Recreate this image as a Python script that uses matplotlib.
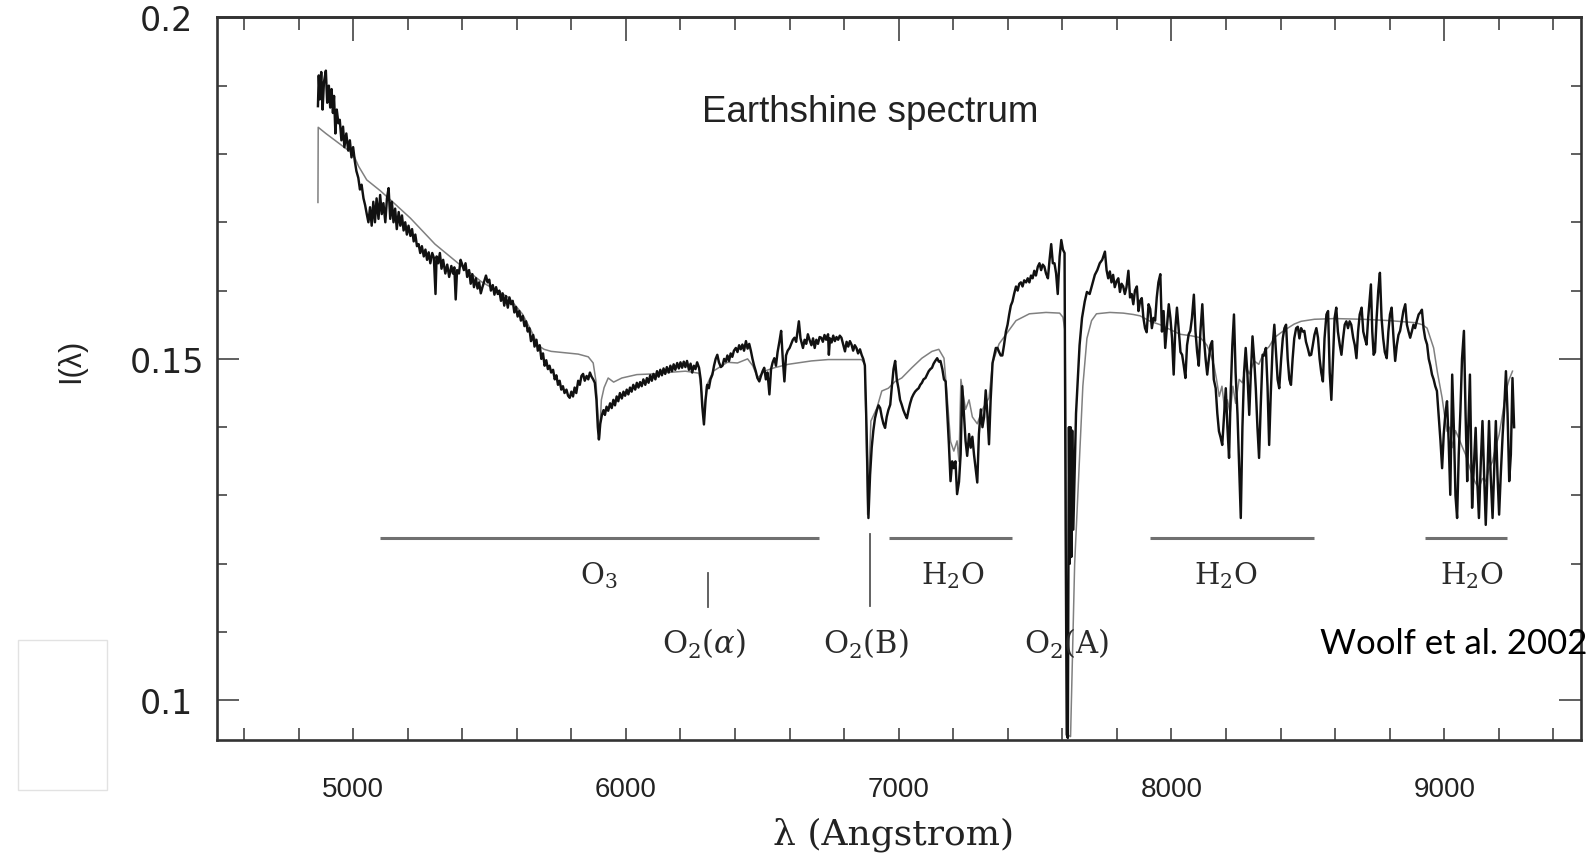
import matplotlib
matplotlib.use("Agg")
import matplotlib.pyplot as plt
from matplotlib.ticker import MultipleLocator, FixedLocator, FixedFormatter
from matplotlib.patches import Rectangle

# ---------------- data ----------------
# observed earthshine spectrum (black), (wavelength [A], intensity)
observed = [
    (4871, 0.1870), (4874, 0.1915), (4878, 0.1880), (4883, 0.1920), (4888, 0.1865), (4893, 0.1905),
    (4900, 0.1922), (4905, 0.1875), (4911, 0.1900), (4916, 0.1868), (4921, 0.1895), (4926, 0.1860),
    (4930, 0.1885), (4935, 0.1830), (4940, 0.1865), (4946, 0.1845), (4951, 0.1850), (4957, 0.1820),
    (4963, 0.1840), (4968, 0.1810), (4975, 0.1830), (4982, 0.1805), (4988, 0.1820), (4994, 0.1795),
    (5000, 0.1810), (5006, 0.1790), (5012, 0.1775), (5019, 0.1765), (5025, 0.1748), (5031, 0.1755),
    (5038, 0.1735), (5044, 0.1725), (5050, 0.1712), (5056, 0.1700), (5062, 0.1722), (5068, 0.1695),
    (5074, 0.1730), (5080, 0.1700), (5086, 0.1735), (5093, 0.1705), (5099, 0.1740), (5105, 0.1712),
    (5111, 0.1728), (5118, 0.1700), (5124, 0.1735), (5130, 0.1750), (5136, 0.1705), (5142, 0.1730),
    (5148, 0.1700), (5154, 0.1720), (5160, 0.1690), (5167, 0.1715), (5173, 0.1695), (5179, 0.1710),
    (5185, 0.1688), (5191, 0.1700), (5197, 0.1682), (5203, 0.1695), (5210, 0.1680), (5216, 0.1690),
    (5222, 0.1672), (5228, 0.1682), (5234, 0.1665), (5240, 0.1668), (5246, 0.1655), (5252, 0.1665),
    (5259, 0.1650), (5265, 0.1660), (5271, 0.1645), (5277, 0.1656), (5283, 0.1640), (5290, 0.1655),
    (5296, 0.1648), (5302, 0.1595), (5306, 0.1650), (5312, 0.1640), (5318, 0.1655), (5324, 0.1632),
    (5330, 0.1645), (5338, 0.1625), (5345, 0.1638), (5352, 0.1620), (5360, 0.1636), (5366, 0.1625),
    (5371, 0.1634), (5376, 0.1587), (5381, 0.1630), (5388, 0.1625), (5394, 0.1645), (5400, 0.1638),
    (5406, 0.1630), (5412, 0.1640), (5418, 0.1620), (5425, 0.1630), (5431, 0.1610), (5437, 0.1624),
    (5443, 0.1605), (5450, 0.1618), (5456, 0.1603), (5462, 0.1612), (5468, 0.1596), (5474, 0.1605),
    (5480, 0.1613), (5487, 0.1622), (5493, 0.1612), (5499, 0.1616), (5505, 0.1600), (5512, 0.1608),
    (5518, 0.1594), (5524, 0.1605), (5530, 0.1595), (5536, 0.1600), (5542, 0.1585), (5548, 0.1596),
    (5554, 0.1578), (5560, 0.1592), (5567, 0.1575), (5573, 0.1590), (5579, 0.1580), (5585, 0.1585),
    (5591, 0.1568), (5597, 0.1576), (5603, 0.1562), (5609, 0.1570), (5615, 0.1556), (5622, 0.1563),
    (5628, 0.1548), (5634, 0.1555), (5640, 0.1540), (5646, 0.1545), (5652, 0.1526),
    (5660, 0.1535), (5665, 0.1518), (5672, 0.1528), (5677, 0.1512), (5684, 0.1520), (5690, 0.1500),
    (5696, 0.1508), (5702, 0.1490), (5708, 0.1498), (5714, 0.1485), (5720, 0.1490), (5726, 0.1480),
    (5733, 0.1484), (5739, 0.1470), (5745, 0.1476), (5751, 0.1462), (5757, 0.1468), (5763, 0.1455),
    (5769, 0.1460), (5775, 0.1450), (5782, 0.1455), (5788, 0.1446), (5794, 0.1443), (5800, 0.1452),
    (5806, 0.1445), (5812, 0.1458), (5818, 0.1450), (5825, 0.1468), (5831, 0.1462), (5837, 0.1475),
    (5843, 0.1478), (5849, 0.1468), (5856, 0.1475), (5862, 0.1470), (5868, 0.1480), (5874, 0.1474),
    (5880, 0.1470), (5886, 0.1465), (5892, 0.1440), (5897, 0.1400), (5901, 0.1382), (5906, 0.1405),
    (5912, 0.1418), (5918, 0.1425), (5923, 0.1418), (5929, 0.1430), (5935, 0.1424), (5942, 0.1435),
    (5948, 0.1428), (5954, 0.1440), (5960, 0.1432), (5966, 0.1445), (5972, 0.1438), (5978, 0.1450),
    (5985, 0.1442), (5991, 0.1452), (5997, 0.1446), (6003, 0.1455), (6009, 0.1448), (6015, 0.1458),
    (6021, 0.1452), (6027, 0.1462), (6034, 0.1455), (6040, 0.1465), (6046, 0.1458), (6052, 0.1466),
    (6058, 0.1460), (6064, 0.1470), (6071, 0.1462), (6077, 0.1472), (6083, 0.1465), (6089, 0.1476),
    (6095, 0.1468), (6101, 0.1478), (6108, 0.1470), (6114, 0.1482), (6120, 0.1474), (6126, 0.1484),
    (6132, 0.1476), (6138, 0.1486), (6144, 0.1478), (6150, 0.1488), (6157, 0.1480), (6163, 0.1490),
    (6169, 0.1482), (6175, 0.1492), (6181, 0.1484), (6188, 0.1494), (6194, 0.1486), (6200, 0.1495),
    (6206, 0.1487), (6212, 0.1496), (6218, 0.1488), (6224, 0.1497), (6231, 0.1484), (6237, 0.1493),
    (6243, 0.1480), (6249, 0.1490), (6255, 0.1485), (6261, 0.1495), (6268, 0.1487), (6274, 0.1470),
    (6280, 0.1430), (6286, 0.1404), (6292, 0.1440), (6298, 0.1462), (6304, 0.1457), (6310, 0.1470),
    (6317, 0.1477), (6323, 0.1490), (6329, 0.1500), (6335, 0.1506), (6341, 0.1495), (6348, 0.1488),
    (6354, 0.1490), (6360, 0.1500), (6366, 0.1496), (6372, 0.1505), (6378, 0.1497), (6384, 0.1508),
    (6390, 0.1503), (6396, 0.1512), (6403, 0.1516), (6409, 0.1510), (6415, 0.1520), (6421, 0.1514),
    (6427, 0.1521), (6433, 0.1512), (6440, 0.1526), (6446, 0.1515), (6452, 0.1522), (6458, 0.1512),
    (6464, 0.1500), (6470, 0.1490), (6476, 0.1482), (6482, 0.1472), (6489, 0.1467), (6495, 0.1475),
    (6501, 0.1482), (6507, 0.1487), (6513, 0.1470), (6519, 0.1480), (6526, 0.1448), (6532, 0.1485),
    (6538, 0.1495), (6544, 0.1501), (6550, 0.1490), (6556, 0.1510), (6563, 0.1526), (6569, 0.1541),
    (6575, 0.1500), (6581, 0.1467), (6587, 0.1505), (6593, 0.1512), (6600, 0.1516), (6606, 0.1522),
    (6612, 0.1528), (6618, 0.1531), (6624, 0.1525), (6629, 0.1540), (6634, 0.1555), (6640, 0.1530),
    (6649, 0.1516), (6655, 0.1528), (6661, 0.1522), (6667, 0.1536), (6673, 0.1528), (6680, 0.1520),
    (6686, 0.1530), (6692, 0.1516), (6698, 0.1528), (6704, 0.1522), (6710, 0.1532), (6716, 0.1531),
    (6722, 0.1525), (6728, 0.1535), (6734, 0.1528), (6741, 0.1536), (6744, 0.1506), (6748, 0.1530),
    (6754, 0.1524), (6760, 0.1534), (6766, 0.1526), (6772, 0.1532), (6778, 0.1528), (6784, 0.1534),
    (6790, 0.1531), (6797, 0.1520), (6803, 0.1511), (6809, 0.1525), (6815, 0.1518), (6821, 0.1526),
    (6827, 0.1521), (6833, 0.1512), (6839, 0.1520), (6845, 0.1516), (6851, 0.1508), (6858, 0.1514),
    (6864, 0.1506), (6870, 0.1500), (6876, 0.1490), (6882, 0.1400), (6889, 0.1267), (6895, 0.1330),
    (6901, 0.1370), (6907, 0.1395), (6913, 0.1413), (6920, 0.1425), (6926, 0.1432), (6932, 0.1428),
    (6938, 0.1415), (6944, 0.1405), (6950, 0.1399), (6956, 0.1415), (6962, 0.1425), (6969, 0.1433),
    (6975, 0.1460), (6981, 0.1485), (6987, 0.1497), (6993, 0.1470), (6999, 0.1457), (7005, 0.1440),
    (7011, 0.1433), (7017, 0.1425), (7024, 0.1418), (7030, 0.1413), (7036, 0.1425), (7042, 0.1435),
    (7048, 0.1443), (7054, 0.1448), (7060, 0.1452), (7067, 0.1455), (7073, 0.1457), (7079, 0.1462),
    (7085, 0.1465), (7091, 0.1470), (7098, 0.1472), (7104, 0.1477), (7110, 0.1482), (7116, 0.1485),
    (7122, 0.1487), (7128, 0.1493), (7134, 0.1497), (7141, 0.1501), (7147, 0.1496), (7153, 0.1497),
    (7160, 0.1485), (7166, 0.1470), (7172, 0.1467), (7178, 0.1420), (7184, 0.1375), (7190, 0.1321),
    (7196, 0.1350), (7202, 0.1340), (7208, 0.1350), (7214, 0.1302), (7221, 0.1320), (7227, 0.1360),
    (7233, 0.1460), (7239, 0.1420), (7245, 0.1380), (7251, 0.1358), (7258, 0.1390), (7264, 0.1370),
    (7270, 0.1386), (7276, 0.1360), (7282, 0.1340), (7288, 0.1319), (7294, 0.1390), (7301, 0.1426),
    (7307, 0.1400), (7313, 0.1415), (7319, 0.1454), (7325, 0.1420), (7331, 0.1375), (7337, 0.1440),
    (7344, 0.1494), (7350, 0.1505), (7356, 0.1516), (7362, 0.1516), (7368, 0.1510), (7374, 0.1505),
    (7380, 0.1505), (7386, 0.1520), (7393, 0.1540), (7399, 0.1550), (7405, 0.1565), (7411, 0.1578),
    (7417, 0.1584), (7423, 0.1595), (7430, 0.1606), (7436, 0.1600), (7442, 0.1610), (7448, 0.1612),
    (7454, 0.1606), (7460, 0.1615), (7467, 0.1612), (7473, 0.1618), (7479, 0.1612), (7485, 0.1622),
    (7491, 0.1618), (7497, 0.1629), (7503, 0.1622), (7510, 0.1635), (7516, 0.1640), (7522, 0.1630),
    (7528, 0.1638), (7534, 0.1635), (7540, 0.1625), (7547, 0.1618), (7553, 0.1645), (7559, 0.1668),
    (7565, 0.1640), (7571, 0.1640), (7577, 0.1625), (7583, 0.1595), (7590, 0.1650), (7596, 0.1674),
    (7602, 0.1660), (7608, 0.1655), (7612, 0.1250), (7616, 0.0950), (7620, 0.0945), (7624, 0.1400),
    (7627, 0.1200), (7630, 0.1400), (7633, 0.1210), (7636, 0.1395), (7640, 0.1250), (7650, 0.1420),
    (7663, 0.1520), (7672, 0.1560), (7682, 0.1584), (7690, 0.1598), (7700, 0.1595), (7710, 0.1610),
    (7719, 0.1623), (7728, 0.1630), (7737, 0.1640), (7746, 0.1645), (7756, 0.1657), (7762, 0.1630),
    (7768, 0.1618), (7774, 0.1628), (7780, 0.1612), (7786, 0.1623), (7792, 0.1605), (7799, 0.1614),
    (7805, 0.1618), (7811, 0.1598), (7817, 0.1610), (7823, 0.1606), (7829, 0.1595), (7835, 0.1605),
    (7842, 0.1629), (7848, 0.1590), (7854, 0.1595), (7860, 0.1580), (7866, 0.1600), (7873, 0.1606),
    (7879, 0.1570), (7885, 0.1585), (7891, 0.1589), (7897, 0.1560), (7903, 0.1545), (7909, 0.1539),
    (7916, 0.1580), (7922, 0.1573), (7928, 0.1545), (7934, 0.1560), (7940, 0.1556), (7946, 0.1590),
    (7952, 0.1612), (7959, 0.1624), (7965, 0.1540), (7971, 0.1570), (7977, 0.1516), (7983, 0.1545),
    (7990, 0.1580), (7996, 0.1560), (8002, 0.1530), (8008, 0.1477), (8014, 0.1545), (8020, 0.1575),
    (8027, 0.1540), (8033, 0.1510), (8039, 0.1506), (8045, 0.1490), (8051, 0.1472), (8057, 0.1520),
    (8063, 0.1536), (8069, 0.1541), (8075, 0.1560), (8082, 0.1594), (8088, 0.1540), (8094, 0.1510),
    (8100, 0.1490), (8106, 0.1540), (8113, 0.1580), (8119, 0.1530), (8125, 0.1500), (8131, 0.1477),
    (8137, 0.1500), (8143, 0.1520), (8149, 0.1526), (8155, 0.1470), (8162, 0.1457), (8168, 0.1420),
    (8174, 0.1394), (8180, 0.1385), (8186, 0.1374), (8193, 0.1420), (8199, 0.1457), (8205, 0.1400),
    (8211, 0.1355), (8217, 0.1450), (8223, 0.1520), (8229, 0.1565), (8235, 0.1480), (8242, 0.1418),
    (8248, 0.1340), (8254, 0.1267), (8260, 0.1400), (8266, 0.1480), (8272, 0.1516), (8278, 0.1480),
    (8285, 0.1418), (8291, 0.1480), (8297, 0.1533), (8303, 0.1500), (8309, 0.1457), (8315, 0.1400),
    (8321, 0.1355), (8327, 0.1430), (8334, 0.1506), (8340, 0.1505), (8346, 0.1516), (8352, 0.1460),
    (8358, 0.1374), (8364, 0.1450), (8371, 0.1520), (8377, 0.1550), (8383, 0.1510), (8389, 0.1470),
    (8395, 0.1457), (8402, 0.1500), (8408, 0.1530), (8414, 0.1545), (8420, 0.1550), (8426, 0.1500),
    (8432, 0.1470), (8438, 0.1462), (8444, 0.1500), (8450, 0.1530), (8457, 0.1545), (8463, 0.1547),
    (8469, 0.1530), (8475, 0.1545), (8481, 0.1540), (8487, 0.1541), (8493, 0.1525), (8500, 0.1515),
    (8506, 0.1505), (8512, 0.1506), (8518, 0.1520), (8524, 0.1535), (8531, 0.1545), (8537, 0.1531),
    (8543, 0.1500), (8549, 0.1480), (8555, 0.1467), (8561, 0.1530), (8568, 0.1565), (8574, 0.1570),
    (8580, 0.1480), (8586, 0.1440), (8592, 0.1500), (8598, 0.1560), (8604, 0.1575), (8610, 0.1540),
    (8617, 0.1520), (8623, 0.1506), (8629, 0.1530), (8635, 0.1550), (8641, 0.1555), (8647, 0.1545),
    (8653, 0.1555), (8659, 0.1550), (8666, 0.1531), (8672, 0.1520), (8678, 0.1501), (8684, 0.1540),
    (8690, 0.1565), (8697, 0.1575), (8703, 0.1540), (8709, 0.1530), (8715, 0.1521), (8721, 0.1560),
    (8727, 0.1590), (8731, 0.1609), (8736, 0.1540), (8741, 0.1506), (8746, 0.1510), (8752, 0.1560),
    (8758, 0.1600), (8764, 0.1626), (8770, 0.1560), (8776, 0.1530), (8782, 0.1510), (8789, 0.1501),
    (8795, 0.1540), (8801, 0.1565), (8807, 0.1575), (8814, 0.1530), (8820, 0.1497), (8826, 0.1520),
    (8832, 0.1535), (8838, 0.1541), (8844, 0.1555), (8850, 0.1570), (8857, 0.1580), (8863, 0.1550),
    (8869, 0.1540), (8875, 0.1531), (8881, 0.1540), (8887, 0.1550), (8893, 0.1545), (8899, 0.1555),
    (8906, 0.1565), (8912, 0.1568), (8918, 0.1572), (8924, 0.1545), (8930, 0.1530), (8937, 0.1521),
    (8943, 0.1500), (8949, 0.1490), (8955, 0.1477), (8961, 0.1470), (8967, 0.1460), (8973, 0.1453),
    (8979, 0.1420), (8986, 0.1380), (8992, 0.1340), (8998, 0.1390), (9004, 0.1420), (9010, 0.1438),
    (9016, 0.1380), (9022, 0.1301), (9026, 0.1400), (9029, 0.1477), (9035, 0.1400), (9041, 0.1300),
    (9047, 0.1267), (9053, 0.1360), (9059, 0.1423), (9065, 0.1500), (9072, 0.1541), (9078, 0.1420),
    (9084, 0.1321), (9088, 0.1400), (9094, 0.1477), (9102, 0.1282), (9108, 0.1340), (9115, 0.1399),
    (9121, 0.1320), (9127, 0.1267), (9134, 0.1350), (9140, 0.1409), (9146, 0.1330), (9152, 0.1257),
    (9158, 0.1330), (9164, 0.1409), (9170, 0.1330), (9177, 0.1267), (9183, 0.1340), (9189, 0.1409),
    (9195, 0.1330), (9201, 0.1272), (9207, 0.1330), (9214, 0.1389), (9220, 0.1430), (9226, 0.1482),
    (9232, 0.1420), (9238, 0.1321), (9244, 0.1360), (9250, 0.1472), (9256, 0.1400),
]

# model spectrum (grey), (wavelength [A], intensity)
model = [
    (4871, 0.1729), (4872, 0.1839), (4900, 0.1830), (4950, 0.1815), (5000, 0.1800), (5020, 0.1782),
    (5050, 0.1762), (5100, 0.1746), (5150, 0.1728), (5210, 0.1706), (5300, 0.1668), (5385, 0.1640),
    (5470, 0.1613), (5570, 0.1590), (5620, 0.1566), (5652, 0.1542), (5677, 0.1520), (5700, 0.1514),
    (5726, 0.1511), (5775, 0.1509), (5825, 0.1507), (5862, 0.1503), (5880, 0.1494), (5890, 0.1468),
    (5897, 0.1420), (5903, 0.1384), (5910, 0.1440), (5920, 0.1458), (5935, 0.1472), (5955, 0.1466),
    (5985, 0.1472), (6040, 0.1477), (6100, 0.1478), (6150, 0.1480), (6218, 0.1482), (6268, 0.1479),
    (6278, 0.1450), (6286, 0.1409), (6295, 0.1460), (6320, 0.1482), (6372, 0.1495), (6409, 0.1494),
    (6446, 0.1500), (6465, 0.1490), (6483, 0.1472), (6507, 0.1482), (6544, 0.1487), (6594, 0.1492),
    (6680, 0.1497), (6741, 0.1499), (6864, 0.1499), (6876, 0.1492), (6886, 0.1272), (6898, 0.1409),
    (6920, 0.1428), (6938, 0.1453), (6962, 0.1457), (6987, 0.1467), (7011, 0.1472), (7048, 0.1487),
    (7085, 0.1501), (7122, 0.1511), (7147, 0.1514), (7166, 0.1501), (7178, 0.1443), (7190, 0.1379),
    (7202, 0.1365), (7214, 0.1380), (7221, 0.1350), (7228, 0.1470), (7245, 0.1426), (7258, 0.1440),
    (7270, 0.1415), (7288, 0.1405), (7307, 0.1426), (7331, 0.1443), (7344, 0.1494), (7368, 0.1522),
    (7399, 0.1539), (7430, 0.1556), (7479, 0.1566), (7540, 0.1568), (7590, 0.1567), (7602, 0.1561),
    (7610, 0.1540), (7614, 0.1300), (7618, 0.0950), (7630, 0.0947), (7645, 0.1200), (7663, 0.1358),
    (7675, 0.1460), (7690, 0.1530), (7707, 0.1556), (7725, 0.1566), (7774, 0.1568), (7823, 0.1567),
    (7860, 0.1565), (7885, 0.1563), (7922, 0.1555), (7959, 0.1550), (8000, 0.1542), (8032, 0.1536),
    (8070, 0.1534), (8106, 0.1531), (8130, 0.1520), (8145, 0.1505), (8156, 0.1490), (8165, 0.1470),
    (8175, 0.1445), (8185, 0.1460), (8195, 0.1425), (8205, 0.1440), (8215, 0.1420), (8225, 0.1460),
    (8235, 0.1435), (8248, 0.1470), (8260, 0.1465), (8272, 0.1490), (8285, 0.1478), (8303, 0.1497),
    (8320, 0.1492), (8340, 0.1511), (8358, 0.1518), (8377, 0.1531), (8400, 0.1538), (8426, 0.1545),
    (8450, 0.1551), (8475, 0.1555), (8524, 0.1558), (8600, 0.1559), (8700, 0.1558), (8800, 0.1556),
    (8893, 0.1553), (8920, 0.1550), (8937, 0.1545), (8961, 0.1516), (8975, 0.1480), (8992, 0.1443),
    (9000, 0.1420), (9010, 0.1394), (9020, 0.1400), (9029, 0.1370), (9041, 0.1395), (9053, 0.1384),
    (9065, 0.1372), (9078, 0.1360), (9090, 0.1345), (9102, 0.1330), (9115, 0.1318), (9127, 0.1311),
    (9140, 0.1325), (9152, 0.1321), (9165, 0.1340), (9177, 0.1350), (9189, 0.1372), (9201, 0.1389),
    (9214, 0.1420), (9226, 0.1453), (9238, 0.1470), (9250, 0.1482),
]

# absorption bands: horizontal bars (label, start, end)
band_labels = [r"$\mathrm{O_3}$", r"$\mathrm{H_2O}$", r"$\mathrm{H_2O}$", r"$\mathrm{H_2O}$"]
band_start = [5098, 6965, 7922, 8929]
band_end = [6709, 7415, 8523, 9229]
band_label_x = [5900, 7200, 8200, 9100]

# single O2 features
line_labels = [r"$\mathrm{O_2(}\alpha\mathrm{)}$", r"$\mathrm{O_2(B)}$", r"$\mathrm{O_2(A)}$"]
line_wave = [6300, 6893, 7633]
line_label_x = [6285, 6878, 7615]

x_ticks = [5000, 6000, 7000, 8000, 9000]
y_ticks = [0.1, 0.15, 0.2]
y_tick_labels = ["0.1", "0.15", "0.2"]

# ---------------- figure ----------------
plt.rcParams["mathtext.fontset"] = "dejavuserif"
SANS = ["Liberation Sans", "DejaVu Sans"]
SERIF = ["DejaVu Serif"]

fig = plt.figure(figsize=(15.96, 8.54), dpi=100)
ax = fig.add_axes([0.1358, 0.1323, 0.8546, 0.8462])

ow, oi = zip(*observed)
mw, mi = zip(*model)
ax.plot(mw, mi, color="#808080", lw=1.1, zorder=2)
ax.plot(ow, oi, color="#111111", lw=1.75, zorder=3)

ax.set_xlim(4500, 9500)
ax.set_ylim(0.0942, 0.2)

# band bars
bar_y = 0.1238
for lab, s, e, lx in zip(band_labels, band_start, band_end, band_label_x):
    ax.plot([s, e], [bar_y, bar_y], color="#707070", lw=2.2, solid_capstyle="butt", zorder=2)
    ax.text(lx, 0.1184, lab, ha="center", va="center", fontsize=21, color="#2a2a2a")

# O2 lines
ax.plot([line_wave[0], line_wave[0]], [0.1186, 0.1137], color="#555555", lw=1.3)
ax.plot([line_wave[1], line_wave[1]], [0.1243, 0.1138], color="#555555", lw=1.3)
for lab, lx in zip(line_labels, line_label_x):
    ax.text(lx, 0.1084, lab, ha="center", va="center", fontsize=22, color="#2a2a2a")

ax.text(0.479, 0.870, "Earthshine spectrum", transform=ax.transAxes, ha="center", va="center",
        fontsize=26.5, family=SANS, color="#222222")

# spines / ticks
for sp in ax.spines.values():
    sp.set_linewidth(1.9)
    sp.set_color("#333333")

ax.xaxis.set_major_locator(FixedLocator(x_ticks))
ax.xaxis.set_minor_locator(MultipleLocator(200))
ax.yaxis.set_major_locator(FixedLocator(y_ticks))
ax.yaxis.set_major_formatter(FixedFormatter(y_tick_labels))
ax.yaxis.set_minor_locator(MultipleLocator(0.01))

ax.tick_params(axis="x", which="both", direction="in", top=False, bottom=True,
               length=9, width=1.2, color="#444444", pad=26, labelsize=20,
               labelfontfamily="Liberation Sans", labelcolor="#222222")
ax.tick_params(axis="y", which="major", direction="in", left=True, right=True,
               length=16, width=1.2, color="#444444", pad=36, labelsize=24,
               labelfontfamily="DejaVu Sans", labelcolor="#222222")
ax.tick_params(axis="y", which="minor", direction="in", left=True, right=True,
               length=7.5, width=1.2, color="#444444")
for t in ax.get_yticklabels():
    t.set_horizontalalignment("center")

top = ax.secondary_xaxis("top")
top.xaxis.set_major_locator(FixedLocator(x_ticks))
top.xaxis.set_minor_locator(MultipleLocator(200))
top.tick_params(axis="x", which="major", direction="in", length=17, width=1.2,
                color="#444444", labeltop=False)
top.tick_params(axis="x", which="minor", direction="in", length=9, width=1.2,
                color="#444444")
top.spines["top"].set_linewidth(1.9)
top.spines["top"].set_color("#333333")

# axis labels
fig.text(0.5600, 0.0226, "λ (Angstrom)", ha="center", va="center", fontsize=26,
         family=SERIF, color="#222222")
fig.text(0.0445, 0.577, "I(λ)", ha="center", va="center", rotation=90, fontsize=22,
         family=SANS, color="#222222")

# credit
fig.text(0.8272, 0.2455, "Woolf et al. 2002", ha="left", va="center", fontsize=25,
         family=["Lato", "DejaVu Sans"], color="black")

# faint leftover frame on the slide
fig.patches.append(Rectangle((0.0115, 0.074), 0.0555, 0.175, transform=fig.transFigure,
                             fill=False, edgecolor="#e2e2e2", lw=1.0))

fig.savefig("out.png", dpi=100)
